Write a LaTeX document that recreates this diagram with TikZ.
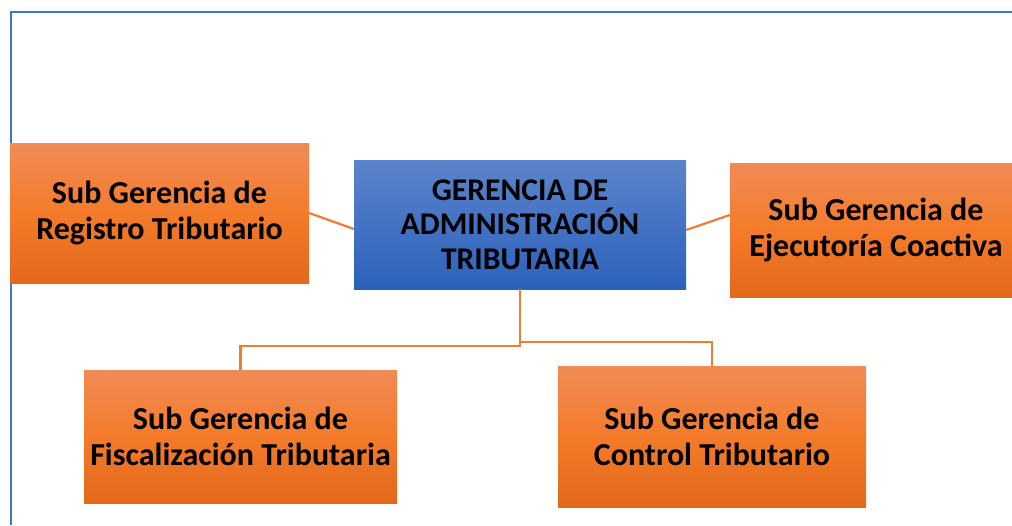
\documentclass[tikz,border=0pt]{standalone}
\usepackage{fontspec}
\setmainfont{Carlito}
\definecolor{frameblue}{HTML}{4472C4}
\definecolor{lineorange}{HTML}{ED7D31}
\definecolor{otop}{HTML}{F08B56}
\definecolor{omid}{HTML}{F47B2A}
\definecolor{obot}{HTML}{E2691B}
\definecolor{btop}{HTML}{5B84CC}
\definecolor{bbot}{HTML}{2D61BA}
\tikzset{
  obox/.style={rectangle, inner sep=0pt, top color=otop, bottom color=obot, middle color=omid,
    align=center, font=\fontsize{32}{35.5}\selectfont\bfseries, text=black},
  bbox/.style={rectangle, inner sep=0pt, top color=btop, bottom color=bbot,
    align=center, font=\fontsize{31.6}{34.5}\selectfont\bfseries, text=black},
  conn/.style={draw=lineorange, line width=2.2pt},
}
\begin{document}
\begin{tikzpicture}[x=1pt,y=-1pt]
\useasboundingbox (0,0) rectangle (1012,525);
\fill[white] (0,0) rectangle (1012,525);
% frame
\draw[frameblue, line width=2.4pt] (11,525) -- (11,12) -- (1012,12);
% nodes
\node[bbox, minimum width=332pt, minimum height=129pt] (ger) at (520,224.5)
  {GERENCIA DE\\ADMINISTRACIÓN\\TRIBUTARIA};
\node[obox, minimum width=299pt, minimum height=140pt] (reg) at (159.5,213)
  {Sub Gerencia de\\Registro Tributario};
\node[obox, minimum width=292pt, minimum height=134pt] (eje) at (876,230)
  {Sub Gerencia de\\Ejecutoría Coactiva};
\node[obox, minimum width=313pt, minimum height=133pt] (fis) at (240.5,436.5)
  {Sub Gerencia de\\Fiscalización Tributaria};
\node[obox, minimum width=308pt, minimum height=141pt] (con) at (712,436.5)
  {Sub Gerencia de\\Control Tributario};
% connectors
\coordinate (j1) at (520,346);
\coordinate (j2) at (520,342);
\draw[conn] (reg.east) -- ([yshift=-4.5pt]ger.west);
\draw[conn] ([yshift=-5.5pt]ger.east) -- ([yshift=15pt]eje.west);
\draw[conn] (ger.south) -- (j1) -| (fis.north);
\draw[conn] (j2) -| (con.north);
\end{tikzpicture}
\end{document}
